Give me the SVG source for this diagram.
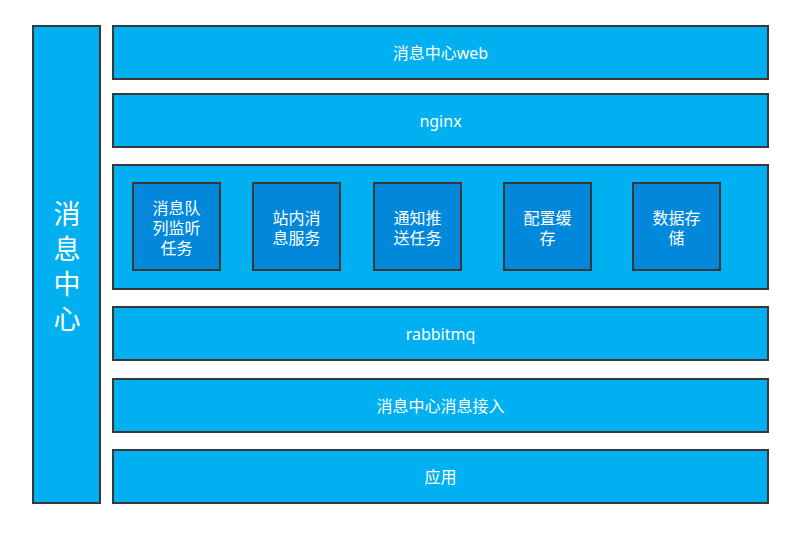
<svg xmlns="http://www.w3.org/2000/svg" width="807" height="533" viewBox="0 0 807 533">
<style>
.box{fill:#00B0F0;stroke:#383838;stroke-width:2}
.inner{fill:#0288DB;stroke:#383838;stroke-width:2}
text{fill:#ffffff;font-family:"Noto Sans","Noto Sans CJK SC",sans-serif;font-size:16px;text-anchor:middle;dominant-baseline:central}
.big{font-size:27px}
</style>
<rect width="807" height="533" fill="#ffffff"/>
<g id="center">
<rect class="box" x="33" y="26" width="67" height="477"/>
<text class="big" x="67" y="213">消</text>
<text class="big" x="67" y="248">息</text>
<text class="big" x="67" y="283">中</text>
<text class="big" x="67" y="318">心</text>
</g>
<g id="web">
<rect class="box" x="113" y="26" width="655" height="53"/>
<text x="440.5" y="52.5">消息中心web</text>
</g>
<g id="nginx">
<rect class="box" x="113" y="94" width="655" height="53"/>
<text x="440.5" y="120.5">nginx</text>
</g>
<g id="services">
<rect class="box" x="113" y="165" width="655" height="124"/>
</g>
<g id="queue-listener">
<rect class="inner" x="133" y="183" width="87" height="87"/>
<text x="176.5" y="207.5">消息队</text>
<text x="176.5" y="227.5">列监听</text>
<text x="176.5" y="247.5">任务</text>
</g>
<g id="site-msg">
<rect class="inner" x="253" y="183" width="87" height="87"/>
<text x="296.5" y="217.5">站内消</text>
<text x="296.5" y="237.5">息服务</text>
</g>
<g id="notify">
<rect class="inner" x="374" y="183" width="87" height="87"/>
<text x="417.5" y="217.5">通知推</text>
<text x="417.5" y="237.5">送任务</text>
</g>
<g id="config-cache">
<rect class="inner" x="504" y="183" width="87" height="87"/>
<text x="547.5" y="217.5">配置缓</text>
<text x="547.5" y="237.5">存</text>
</g>
<g id="data-store">
<rect class="inner" x="633" y="183" width="87" height="87"/>
<text x="676.5" y="217.5">数据存</text>
<text x="676.5" y="237.5">储</text>
</g>
<g id="rabbitmq">
<rect class="box" x="113" y="307" width="655" height="53"/>
<text x="440.5" y="333.5">rabbitmq</text>
</g>
<g id="access">
<rect class="box" x="113" y="379" width="655" height="53"/>
<text x="440.5" y="405.5">消息中心消息接入</text>
</g>
<g id="app">
<rect class="box" x="113" y="450" width="655" height="53"/>
<text x="440.5" y="476.5">应用</text>
</g>
<g id="connectors"/>
</svg>
